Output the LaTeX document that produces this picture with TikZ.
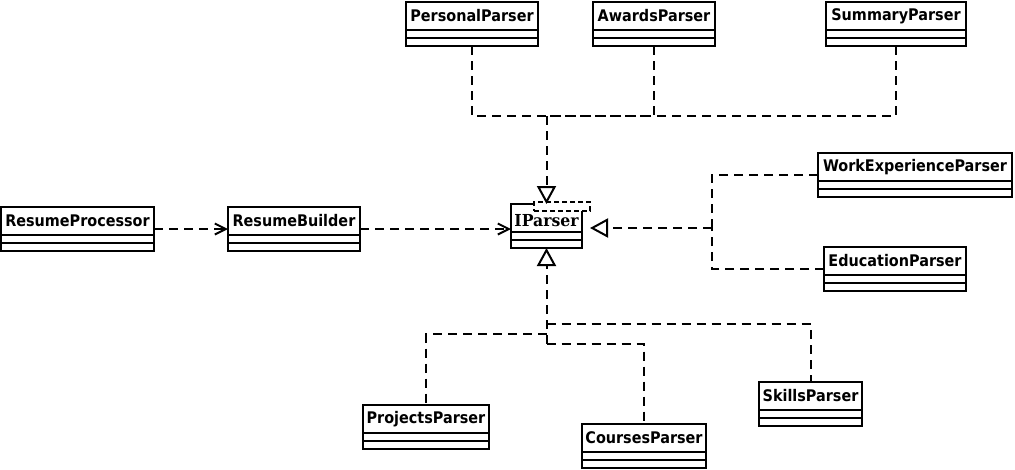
\documentclass[tikz,border=0pt]{standalone}
\usepackage{fontspec}
\newfontfamily\clsfont{DejaVu Sans}[FakeStretch=0.9]
\newfontfamily\ifacefont{DejaVu Serif}[FakeStretch=0.95]
\usetikzlibrary{arrows.meta,calc}
\tikzset{
  boxline/.style={line width=2pt, draw=black},
  classbox/.style={boxline, fill=white, inner sep=0pt, outer sep=0pt, minimum height=44pt},
  classtitle/.style={inner sep=0pt, outer sep=0pt, minimum height=28pt, font=\clsfont\bfseries\fontsize{16}{19}\selectfont},
  ifacetitle/.style={classtitle, font=\ifacefont\bfseries\fontsize{16.5}{19}\selectfont},
  dep/.style={line width=2pt, dash pattern=on 9pt off 6pt},
  realize/.style={dep, -{Triangle[open, length=18pt, width=19pt, line width=2pt]}},
  use/.style={dep, -{Straight Barb[length=11pt, width=11pt, line width=2pt]}},
  tmpl/.style={draw, fill=white, line width=1.6pt, dash pattern=on 5pt off 3pt, inner sep=0pt, outer sep=0pt, minimum width=56pt, minimum height=9pt}
}
\newcommand\umlclass[6][classtitle]{%
  \node[classbox, minimum width=#5, anchor=north west] (#2) at (#3,#4) {};
  \node[#1, minimum width=#5, anchor=north west] (#2-t) at (#3,#4) {#6};
  \draw[boxline] (#2.north west) ++(0,28) -- ++(#5,0) ++(-#5,8) -- ++(#5,0);
}
\begin{document}
\begin{tikzpicture}[x=1pt, y=-1pt]
\fill[white] (0,0) rectangle (1015,469);
\useasboundingbox (0,0) rectangle (1015,469);

\umlclass{pp}{406}{2}{132}{PersonalParser}
\umlclass{ap}{593}{2}{122}{AwardsParser}
\umlclass{sp}{826}{2}{140}{SummaryParser}
\umlclass{wp}{818}{153}{194}{WorkExperienceParser}
\umlclass{ep}{824}{247}{142}{EducationParser}
\umlclass{rp}{1}{207}{153}{ResumeProcessor}
\umlclass{rb}{228}{207}{132}{ResumeBuilder}
\umlclass{prp}{363}{405}{126}{ProjectsParser}
\umlclass{cp}{582}{424}{124}{CoursesParser}
\umlclass{skp}{759}{382}{103}{SkillsParser}

% interface IParser with its dashed template box
\node[classbox, minimum width=71, anchor=north west] (ip) at (511,204) {};
\node[tmpl, anchor=north west] (ipt) at (534,202) {};
\node[ifacetitle, minimum width=71, anchor=north west, yshift=-3pt] (ip-t) at (511,204) {IParser};
\draw[boxline] (ip.north west) ++(0,28) -- ++(71,0) ++(-71,8) -- ++(71,0);

% top group
\coordinate (jtx) at (ip.north |- 0,116);
\draw[dep] (pp.south) |- (jtx);
\draw[dep] (ap.south) |- (jtx);
\draw[dep] (sp.south) |- (jtx);
\draw[realize] (jtx) -- (ip.north);

% right group
\coordinate (jrx) at (712,0);
\coordinate (jr) at (jrx |- 0,228);
\draw[dep] (wp.west) -| (jr);
\draw[dep] (ep.west) -| (jr);
\draw[realize] (jr) -- (ipt.east |- jr);

% bottom group
\coordinate (jb1) at (ip.south |- 0,324);
\coordinate (jb2) at (ip.south |- 0,334);
\coordinate (jb3) at (ip.south |- 0,344);
\draw[dep] (jb1) -| (skp.north);
\draw[dep] (jb2) -| (prp.north);
\draw[dep] (jb3) -| (cp.north);
\draw[realize] (jb3) -- (ip.south);

% left chain
\draw[use] (rp.east) -- (rb.west);
\draw[use] (rb.east) -- (rb.east -| ip.west);
\end{tikzpicture}
\end{document}
